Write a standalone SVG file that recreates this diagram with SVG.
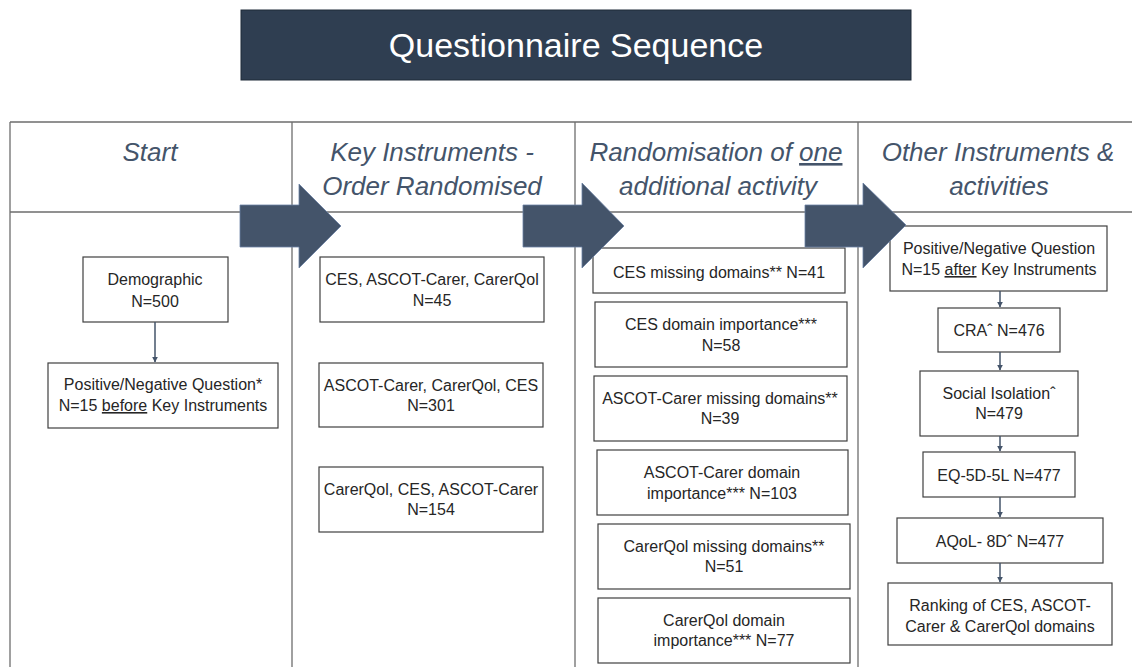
<svg xmlns="http://www.w3.org/2000/svg" width="1132" height="667" viewBox="0 0 1132 667">
<style>
.box{fill:#fff;stroke:#404040;stroke-width:1.2}
.t{font-family:"Liberation Sans",Arial,sans-serif;font-size:16px;fill:#262626;text-anchor:middle}
.h{font-family:"Liberation Sans",Arial,sans-serif;font-size:26px;font-style:italic;fill:#44546A;text-anchor:middle}
.grid{stroke:#6e6e6e;stroke-width:1.3;fill:none}
.blk{fill:#44546A;stroke:#6a80a3;stroke-width:0.8}
.con{stroke:#44546A;stroke-width:1.5;fill:none;marker-end:url(#ah)}
.u{text-decoration:underline}
</style>
<defs>
<marker id="ah" viewBox="0 0 10 10" refX="9" refY="5" markerWidth="4" markerHeight="4" orient="auto" markerUnits="strokeWidth">
<path d="M0,0 L10,5 L0,10 z" fill="#44546A"/>
</marker>
</defs>
<rect width="1132" height="667" fill="#fff"/>
<g id="title">
<rect x="241" y="10" width="670" height="70" fill="#2F3E51" stroke="#1f2a38" stroke-width="1"/>
<text x="576" y="57" font-family="'Liberation Sans',Arial,sans-serif" font-size="34" fill="#fff" text-anchor="middle">Questionnaire Sequence</text>
</g>
<g id="table">
<path class="grid" d="M10,122 H1132 M10,212 H1132 M10,122 V667 M292,122 V667 M575,122 V667 M858,122 V667"/>
<text class="h" x="150" y="161">Start</text>
<text class="h" x="432" y="161">Key Instruments -</text>
<text class="h" x="432" y="195">Order Randomised</text>
<text class="h" x="716" y="161">Randomisation of <tspan class="u">one</tspan></text>
<text class="h" x="718" y="195">additional activity</text>
<text class="h" x="998" y="161">Other Instruments &amp;</text>
<text class="h" x="999" y="195">activities</text>
</g>
<g id="demographic"><rect class="box" x="83" y="257" width="145" height="65"/><text class="t" x="155" y="285">Demographic</text><text class="t" x="155" y="307">N=500</text></g>
<g id="posneg-before"><rect class="box" x="48" y="363" width="230" height="65"/><text class="t" x="163" y="390">Positive/Negative Question*</text><text class="t" x="163" y="411">N=15 <tspan class="u">before</tspan> Key Instruments</text></g>
<g id="order1"><rect class="box" x="320" y="257" width="224" height="65"/><text class="t" x="432" y="285">CES, ASCOT-Carer, CarerQol</text><text class="t" x="432" y="306">N=45</text></g>
<g id="order2"><rect class="box" x="319" y="363" width="224" height="64"/><text class="t" x="431" y="391">ASCOT-Carer, CarerQol, CES</text><text class="t" x="431" y="411">N=301</text></g>
<g id="order3"><rect class="box" x="319" y="467" width="224" height="65"/><text class="t" x="431" y="495">CarerQol, CES, ASCOT-Carer</text><text class="t" x="431" y="515">N=154</text></g>
<g id="ces-missing"><rect class="box" x="593" y="248" width="252" height="45"/><text class="t" x="719" y="278">CES missing domains** N=41</text></g>
<g id="ces-importance"><rect class="box" x="595" y="302" width="252" height="65"/><text class="t" x="721" y="330">CES domain importance***</text><text class="t" x="721" y="351">N=58</text></g>
<g id="ascot-missing"><rect class="box" x="594" y="376" width="253" height="65"/><text class="t" x="720" y="404">ASCOT-Carer missing domains**</text><text class="t" x="720" y="424">N=39</text></g>
<g id="ascot-importance"><rect class="box" x="597" y="450" width="251" height="65"/><text class="t" x="722" y="478">ASCOT-Carer domain</text><text class="t" x="722" y="499">importance*** N=103</text></g>
<g id="carerqol-missing"><rect class="box" x="598" y="524" width="252" height="65"/><text class="t" x="724" y="552">CarerQol missing domains**</text><text class="t" x="724" y="572">N=51</text></g>
<g id="carerqol-importance"><rect class="box" x="598" y="598" width="252" height="65"/><text class="t" x="724" y="626">CarerQol domain</text><text class="t" x="724" y="646">importance*** N=77</text></g>
<g id="posneg-after"><rect class="box" x="890" y="226" width="217" height="65"/><text class="t" x="999" y="254">Positive/Negative Question</text><text class="t" x="999" y="275">N=15 <tspan class="u">after</tspan> Key Instruments</text></g>
<g id="cra"><rect class="box" x="938" y="308" width="122" height="44"/><text class="t" x="999" y="336">CRAˆ N=476</text></g>
<g id="social-isolation"><rect class="box" x="920" y="371" width="158" height="65"/><text class="t" x="999" y="399">Social Isolationˆ</text><text class="t" x="999" y="419">N=479</text></g>
<g id="eq5d"><rect class="box" x="923" y="452" width="152" height="45"/><text class="t" x="999" y="481">EQ-5D-5L N=477</text></g>
<g id="aqol"><rect class="box" x="897" y="518" width="206" height="45"/><text class="t" x="1000" y="547">AQoL- 8Dˆ N=477</text></g>
<g id="ranking"><rect class="box" x="888" y="583" width="224" height="62"/><text class="t" x="1000" y="611">Ranking of CES, ASCOT-</text><text class="t" x="1000" y="632">Carer &amp; CarerQol domains</text></g>
<g id="connectors">
<polygon class="blk" points="240,205 299,205 299,184 341,226 299,268 299,247 240,247"/>
<polygon class="blk" points="523,205 582,205 582,183 624,226 582,268 582,247 523,247"/>
<polygon class="blk" points="805,205 863,205 863,183 906,225 863,268 863,247 805,247"/>
<path class="con" d="M155,322 V362"/>
<path class="con" d="M1000,291 V307"/>
<path class="con" d="M1000,352 V370"/>
<path class="con" d="M1000,436 V451"/>
<path class="con" d="M1000,497 V517"/>
<path class="con" d="M1000,563 V582"/>
</g>
</svg>
